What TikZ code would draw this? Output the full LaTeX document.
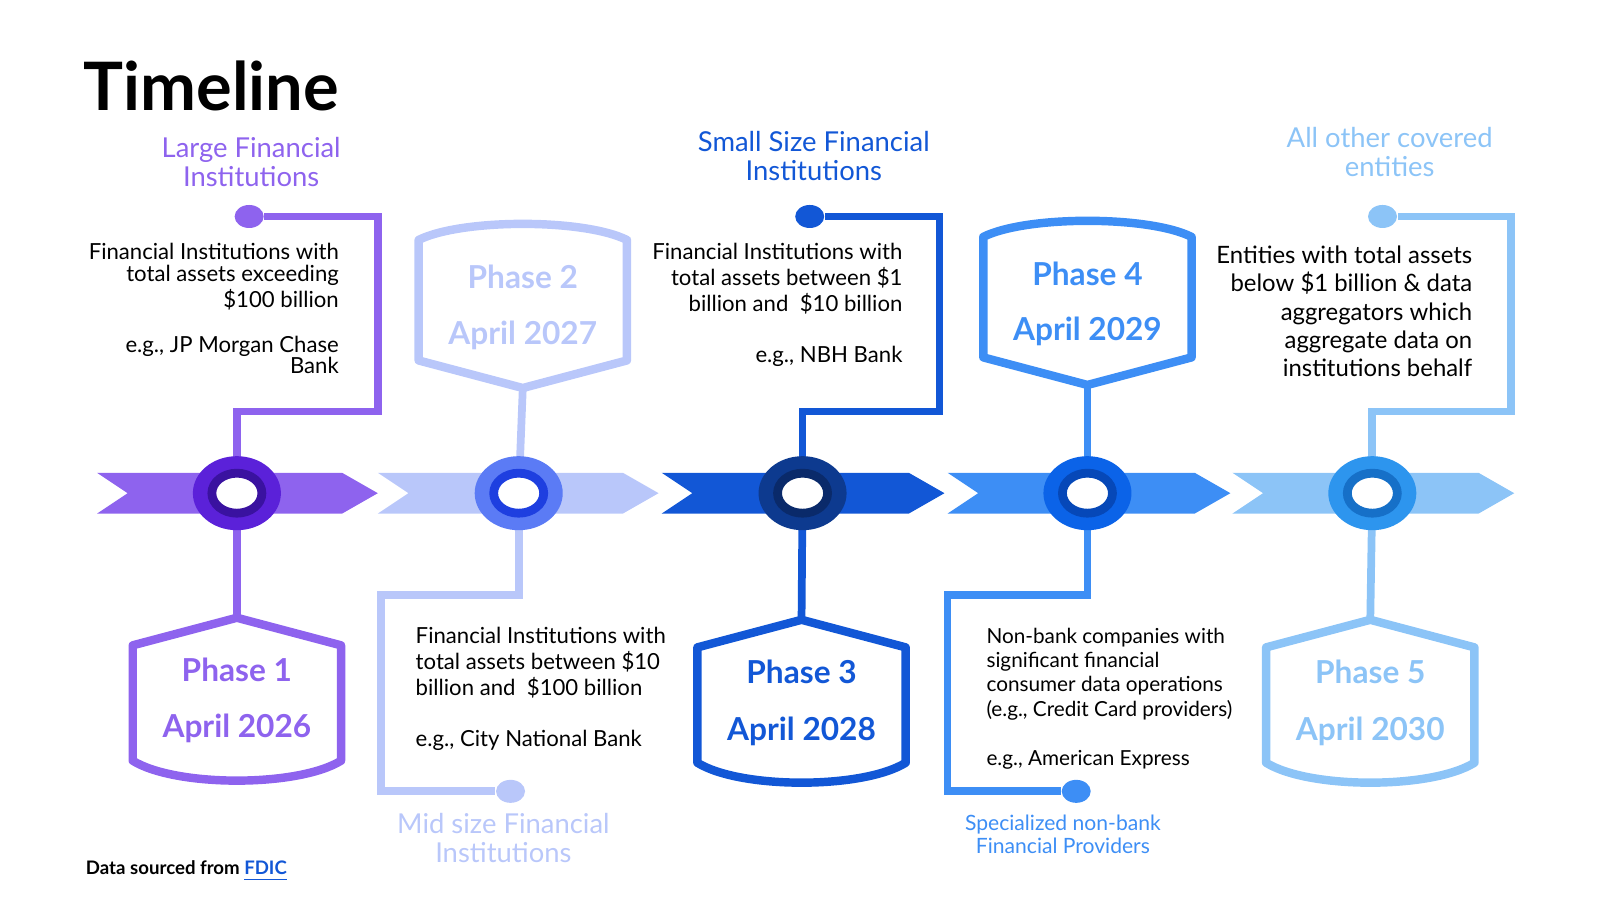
\documentclass[tikz,border=0pt]{standalone}
\usepackage{fontspec}
\setmainfont{Lato}
\usepackage{xcolor}
\usetikzlibrary{shapes.geometric, positioning}
\definecolor{pA}{HTML}{8E63EE}
\definecolor{pB}{HTML}{B9C7FA}
\definecolor{pC}{HTML}{1257D6}
\definecolor{pD}{HTML}{3D8EF5}
\definecolor{pE}{HTML}{8CC4F7}
\definecolor{rA}{HTML}{5B21D9}
\definecolor{rB}{HTML}{5B7BF5}
\definecolor{rC}{HTML}{0D3A8F}
\definecolor{rD}{HTML}{0B63E8}
\definecolor{rE}{HTML}{2D95EE}
\tikzset{
  link/.style={line width=2.2pt},
  dot/.style={ellipse, fill=#1, minimum width=0.29cm, minimum height=0.23cm, inner sep=0pt},
  hub/.style={ellipse, fill=#1, minimum width=0.88cm, minimum height=0.74cm, inner sep=0pt},
  hole/.style={ellipse, fill=white, draw=#1, line width=2.5pt, minimum width=0.50cm, minimum height=0.40cm, inner sep=0pt},
  desc/.style={font=\fontsize{6.3}{6.2}\selectfont},
  group/.style={font=\fontsize{7.8}{8.2}\selectfont, align=center},
  badgetxt/.style={font=\bfseries\fontsize{9}{10}\selectfont, text=#1}
}
\newcommand{\chevron}[3]{% x start, x end, colour
  \fill[#3] (#1,463) -- (#2-35,463) -- (#2,483) -- (#2-35,503) -- (#1,503) -- (#1+30,483) -- cycle;}
\newcommand{\badgeup}[3]{% cx, apex y, colour
  \draw[#3, line width=2.4pt, line join=round] (#1,#2) -- (#1+102,#2+27) -- (#1+102,#2+140)
    .. controls (#1+60,#2+166) and (#1-60,#2+166) .. (#1-102,#2+140) -- (#1-102,#2+27) -- cycle;}
\newcommand{\badgedown}[3]{% cx, apex y, colour
  \draw[#3, line width=2.4pt, line join=round] (#1,#2) -- (#1+102,#2-27) -- (#1+102,#2-145)
    .. controls (#1+60,#2-166) and (#1-60,#2-166) .. (#1-102,#2-145) -- (#1-102,#2-27) -- cycle;}
\begin{document}
\begin{tikzpicture}[x=0.01021cm, y=-0.01021cm]
\useasboundingbox (0,0) rectangle (1567,881);
% title and footer
\node[anchor=west, font=\bfseries\fontsize{19}{22}\selectfont] (title) at (70,84) {Timeline};
\node[anchor=west, font=\bfseries\fontsize{5.3}{6}\selectfont] (src) at (72,853) {Data sourced from \textcolor{pC}{\underline{FDIC}}};
% hubs positions
\coordinate (h1) at (232,483);
\coordinate (h2) at (508,483);
\coordinate (h3) at (786,483);
\coordinate (h4) at (1065,483);
\coordinate (h5) at (1344,483);
% badges
\badgeup{232}{605}{pA}
\badgedown{512}{380}{pB}
\badgeup{785}{607}{pC}
\badgedown{1065}{377}{pD}
\badgeup{1342}{607}{pE}
\coordinate (b1) at (232,605);
\coordinate (b2) at (512,380);
\coordinate (b3) at (785,607);
\coordinate (b4) at (1065,377);
\coordinate (b5) at (1342,607);
% end dots
\node[dot=pA] (d1) at (244,212) {};
\node[dot=pB] (d2) at (500,775) {};
\node[dot=pC] (d3) at (793,212) {};
\node[dot=pD] (d4) at (1054,775) {};
\node[dot=pE] (d5) at (1354,212) {};
% corners
\coordinate (k1) at (370,403);
\coordinate (k2) at (373,583);
\coordinate (k3) at (920,403);
\coordinate (k4) at (928,583);
\coordinate (k5) at (1480,403);
% connectors
\draw[link, pA] (h1) |- (k1) |- (d1);
\draw[link, pA] (h1) -- (b1);
\draw[link, pB] (h2) -- (b2);
\draw[link, pB] (h2) |- (k2) |- (d2);
\draw[link, pC] (h3) |- (k3) |- (d3);
\draw[link, pC] (h3) -- (b3);
\draw[link, pD] (h4) -- (b4);
\draw[link, pD] (h4) |- (k4) |- (d4);
\draw[link, pE] (h5) |- (k5) |- (d5);
\draw[link, pE] (h5) -- (b5);
% arrow band
\chevron{95}{370}{pA}
\chevron{370}{645}{pB}
\chevron{648}{925}{pC}
\chevron{928}{1205}{pD}
\chevron{1207}{1483}{pE}
% hubs
\foreach \i/\c/\r in {1/rA/3A12A0, 2/rB/1E3FE0, 3/rC/0A2A6A, 4/rD/0648B8, 5/rE/1670C8} {
  \definecolor{ring}{HTML}{\r}
  \node[hub=\c] (c\i) at (h\i) {};
  \node[hole=ring] (w\i) at (h\i) {};
}
% badge texts
\node[badgetxt=pA] (p1) at (232,656) {Phase 1};
\node[badgetxt=pA] (a1) at (232,713) {April 2026};
\node[badgetxt=pB] (p2) at (512,271) {Phase 2};
\node[badgetxt=pB] (a2) at (512,328) {April 2027};
\node[badgetxt=pC] (p3) at (785,658) {Phase 3};
\node[badgetxt=pC] (a3) at (785,716) {April 2028};
\node[badgetxt=pD] (p4) at (1065,268) {Phase 4};
\node[badgetxt=pD] (a4) at (1065,325) {April 2029};
\node[badgetxt=pE] (p5) at (1342,658) {Phase 5};
\node[badgetxt=pE] (a5) at (1342,716) {April 2030};
% group labels
\node[group, text=pA] (g1) at (246,159) {Large Financial\\Institutions};
\node[group, text=pC] (g3) at (797,153) {Small Size Financial\\Institutions};
\node[group, text=pE] (g5) at (1361,149) {All other covered\\entities};
\node[group, text=pB] (g2) at (493,821) {Mid size Financial\\Institutions};
\node[group, text=pD, font=\fontsize{6}{5.3}\selectfont] (g4) at (1041,817) {Specialized non-bank\\Financial Providers};
% descriptions
\node[desc, anchor=north east, align=right] (t1) at (344,226) {Financial Institutions with\\total assets exceeding\\\$100 billion\\[6.6pt]e.g., JP Morgan Chase\\Bank};
\node[desc, anchor=north east, align=right, font=\fontsize{6.3}{7.4}\selectfont] (t3) at (896,226) {Financial Institutions with\\total assets between \$1\\billion and\ \ \$10 billion\\[7pt]e.g., NBH Bank};
\node[desc, anchor=north east, align=right, font=\fontsize{6.8}{8}\selectfont] (t5) at (1454,229) {Entities with total assets\\below \$1 billion \& data\\aggregators which\\aggregate data on\\institutions behalf};
\node[desc, anchor=north west, align=left, font=\fontsize{6.3}{7.4}\selectfont] (t2) at (395,602) {Financial Institutions with\\total assets between \$10\\billion and\ \ \$100 billion\\[7pt]e.g., City National Bank};
\node[desc, anchor=north west, align=left, font=\fontsize{5.9}{6.9}\selectfont] (t4) at (954,603) {Non-bank companies with\\significant financial\\consumer data operations\\(e.g., Credit Card providers)\\[7pt]e.g., American Express};
\end{tikzpicture}
\end{document}
